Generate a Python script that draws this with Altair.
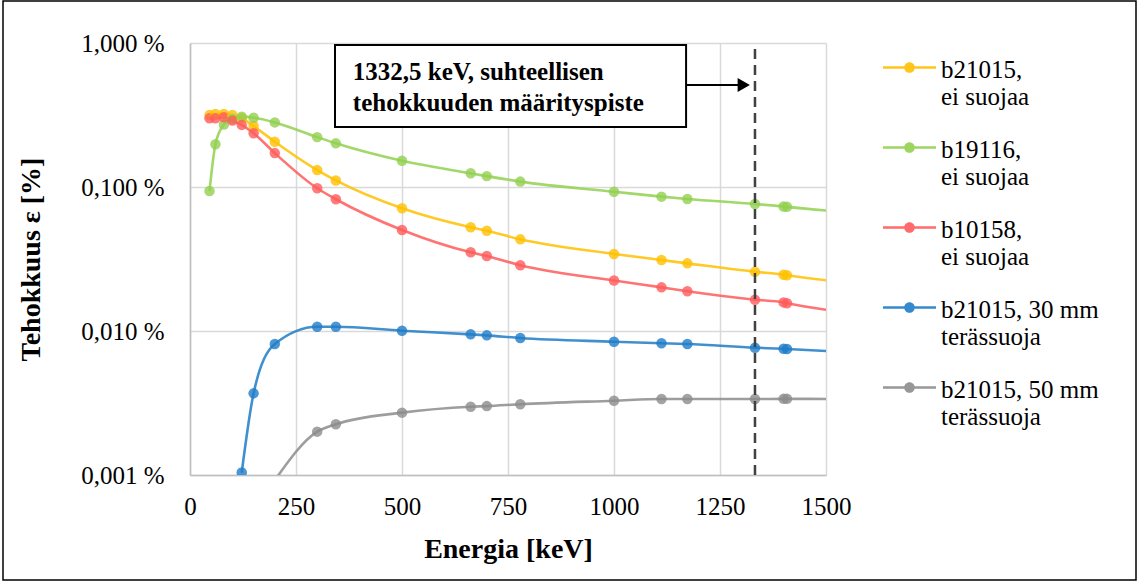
import altair as alt
import pandas as pd

# Gamma energies (keV); the last one lies beyond the visible range so the curves run to the edge
energy = [46, 60, 80, 100, 122, 150, 200, 300, 344, 500, 662, 700, 779,
          1000, 1112, 1173, 1332.5, 1400, 1408, 1836]

series_names = [
    "b21015,\nei suojaa",
    "b19116,\nei suojaa",
    "b10158,\nei suojaa",
    "b21015, 30 mm\nterässuoja",
    "b21015, 50 mm\nterässuoja",
]
series_colors = ["#FFC000", "#92D050", "#FF5B5B", "#1F7CC8", "#8C8C8C"]

# Efficiencies in percent (None = no measurement at that energy)
eff_b21015 = [0.316, 0.321, 0.321, 0.316, 0.300, 0.265, 0.206, 0.131, 0.111, 0.0711,
              0.0525, 0.0497, 0.0433, 0.0343, 0.0311, 0.0295, 0.0258, 0.0246, 0.0244, 0.0189]
eff_b19116 = [0.0938, 0.198, 0.272, 0.297, 0.308, 0.303, 0.281, 0.222, 0.201, 0.152,
              0.1245, 0.119, 0.109, 0.0927, 0.0857, 0.0826, 0.0762, 0.0732, 0.0728, 0.057]
eff_b10158 = [0.300, 0.300, 0.305, 0.289, 0.270, 0.236, 0.172, 0.098, 0.0822, 0.0503,
              0.0352, 0.0332, 0.0286, 0.0224, 0.0201, 0.0189, 0.0165, 0.0158, 0.0156, 0.0117]
eff_30mm = [None, None, None, None, 0.00104, 0.00369, 0.00812, 0.01071, 0.0107, 0.01005,
            0.00948, 0.00933, 0.00894, 0.00843, 0.00822, 0.00812, 0.00766, 0.00752, 0.0075, 0.00645]
eff_50mm = [None, None, None, None, None, None, 0.00092, 0.0020, 0.00225, 0.00271,
            0.00298, 0.00301, 0.0031, 0.00328, 0.00337, 0.00337, 0.00337, 0.00338, 0.00338, 0.00333]

all_series = [eff_b21015, eff_b19116, eff_b10158, eff_30mm, eff_50mm]

rows = []
for order, (name, values) in enumerate(zip(series_names, all_series)):
    for e, v in zip(energy, values):
        if v is not None:
            rows.append({"sarja": name, "jarjestys": order, "energia": e, "tehokkuus": v})
df = pd.DataFrame(rows)

# Reference energy and annotation box
ref_energy = 1332.5
note_lines = ["1332,5 keV, suhteellisen", "tehokkuuden määrityspiste"]

FONT = "Liberation Serif"
x_scale = alt.Scale(domain=[0, 1500], nice=False, zero=False)
y_scale = alt.Scale(type="log", domain=[0.001, 1], nice=False)

legend = alt.Legend(
    title=None,
    orient="none",
    legendX=693,
    legendY=8,
    padding=0,
    symbolType="M-1,-0.42H-0.19V-0.33H-1Z M0.19,-0.42H1V-0.33H0.19Z "
               "M-0.2,-0.375A0.2,0.2 0 1,1 0.2,-0.375A0.2,0.2 0 1,1 -0.2,-0.375Z",
    symbolSize=2809,
    symbolStrokeWidth=0,
    symbolOpacity=0.9,
    labelExpr="split(datum.label, '\\n')",
    labelFont=FONT,
    labelFontSize=25,
    labelColor="#000000",
    labelBaseline="alphabetic",
    labelOffset=5,
    labelLimit=400,
    rowPadding=21,
)
color = alt.Color("sarja:N", scale=alt.Scale(domain=series_names, range=series_colors), legend=legend)

base = alt.Chart(df).encode(
    x=alt.X("energia:Q", scale=x_scale,
            axis=alt.Axis(title="Energia [keV]", values=[0, 250, 500, 750, 1000, 1250, 1500],
                          format="d", labelFont=FONT, labelFontSize=25, labelFlush=False,
                          labelPadding=19, titleX=318, titleY=74, titleBaseline="middle")),
    y=alt.Y("tehokkuus:Q", scale=y_scale,
            axis=alt.Axis(title="Tehokkuus ε [%]", values=[0.001, 0.01, 0.1, 1],
                          labelExpr="replace(format(datum.value, '.3f'), '.', ',') + ' %'",
                          labelFont=FONT, labelFontSize=25, labelFlush=False,
                          labelPadding=26, titleX=-159, titleY=216,
                          titleAlign="center", titleBaseline="middle")),
    color=color,
    detail="sarja:N",
    order="energia:Q",
)

lines = base.mark_line(interpolate="monotone", strokeWidth=2.6, opacity=0.85, clip=True)
points = base.mark_point(filled=True, size=110, opacity=0.8, clip=True)

one = alt.Data(values=[{"k": 0}])

ref_line = alt.Chart(one).mark_rule(color="#404040", strokeWidth=2.5, strokeDash=[10, 6]).encode(
    x=alt.X(datum=ref_energy, type="quantitative", scale=x_scale),
    y=alt.Y(datum=0.001, type="quantitative", scale=y_scale),
    y2=alt.Y2(datum=1),
)

note_box = alt.Chart(one).mark_rect(fill="white", stroke="black", strokeWidth=2).encode(
    x=alt.X(datum=342, type="quantitative", scale=x_scale),
    x2=alt.X2(datum=1170),
    y=alt.Y(datum=0.968, type="quantitative", scale=y_scale),
    y2=alt.Y2(datum=0.261),
)

note_text = alt.Chart(one).mark_text(
    text=note_lines, align="left", baseline="alphabetic", font=FONT,
    fontSize=25, fontWeight="bold", lineHeight=31, color="black",
).encode(
    x=alt.X(datum=384, type="quantitative", scale=x_scale),
    y=alt.Y(datum=0.553, type="quantitative", scale=y_scale),
)

arrow_shaft = alt.Chart(one).mark_rule(color="black", strokeWidth=2).encode(
    x=alt.X(datum=1170, type="quantitative", scale=x_scale),
    x2=alt.X2(datum=1300),
    y=alt.Y(datum=0.511, type="quantitative", scale=y_scale),
)
arrow_head = alt.Chart(one).mark_point(shape="triangle-right", filled=True, size=200,
                                       color="black", opacity=1).encode(
    x=alt.X(datum=1306, type="quantitative", scale=x_scale),
    y=alt.Y(datum=0.511, type="quantitative", scale=y_scale),
)

# Thin frame around the whole figure
frame = alt.Chart(one).mark_rect(fill=None, stroke="black", strokeWidth=1.5).encode(
    x=alt.value(-187), x2=alt.value(946), y=alt.value(-42), y2=alt.value(537)
)

chart = alt.layer(
    lines, points, ref_line, note_box, note_text, arrow_shaft, arrow_head, frame
).properties(
    width=636, height=432,
    autosize=alt.AutoSizeParams(type="none"),
    padding={"left": 190, "top": 43, "right": 313, "bottom": 108},
    background="white",
).configure_view(stroke=None).configure_axis(
    labelFont=FONT, labelFontSize=25, labelColor="#000000",
    titleFont=FONT, titleFontSize=28, titleFontWeight="bold", titleColor="#000000",
    gridColor="#D9D9D9", gridWidth=1.5, domainColor="#BFBFBF", domainWidth=1.5,
    ticks=False,
)

chart.save("out.html", embed_options={"renderer": "svg", "actions": False})
